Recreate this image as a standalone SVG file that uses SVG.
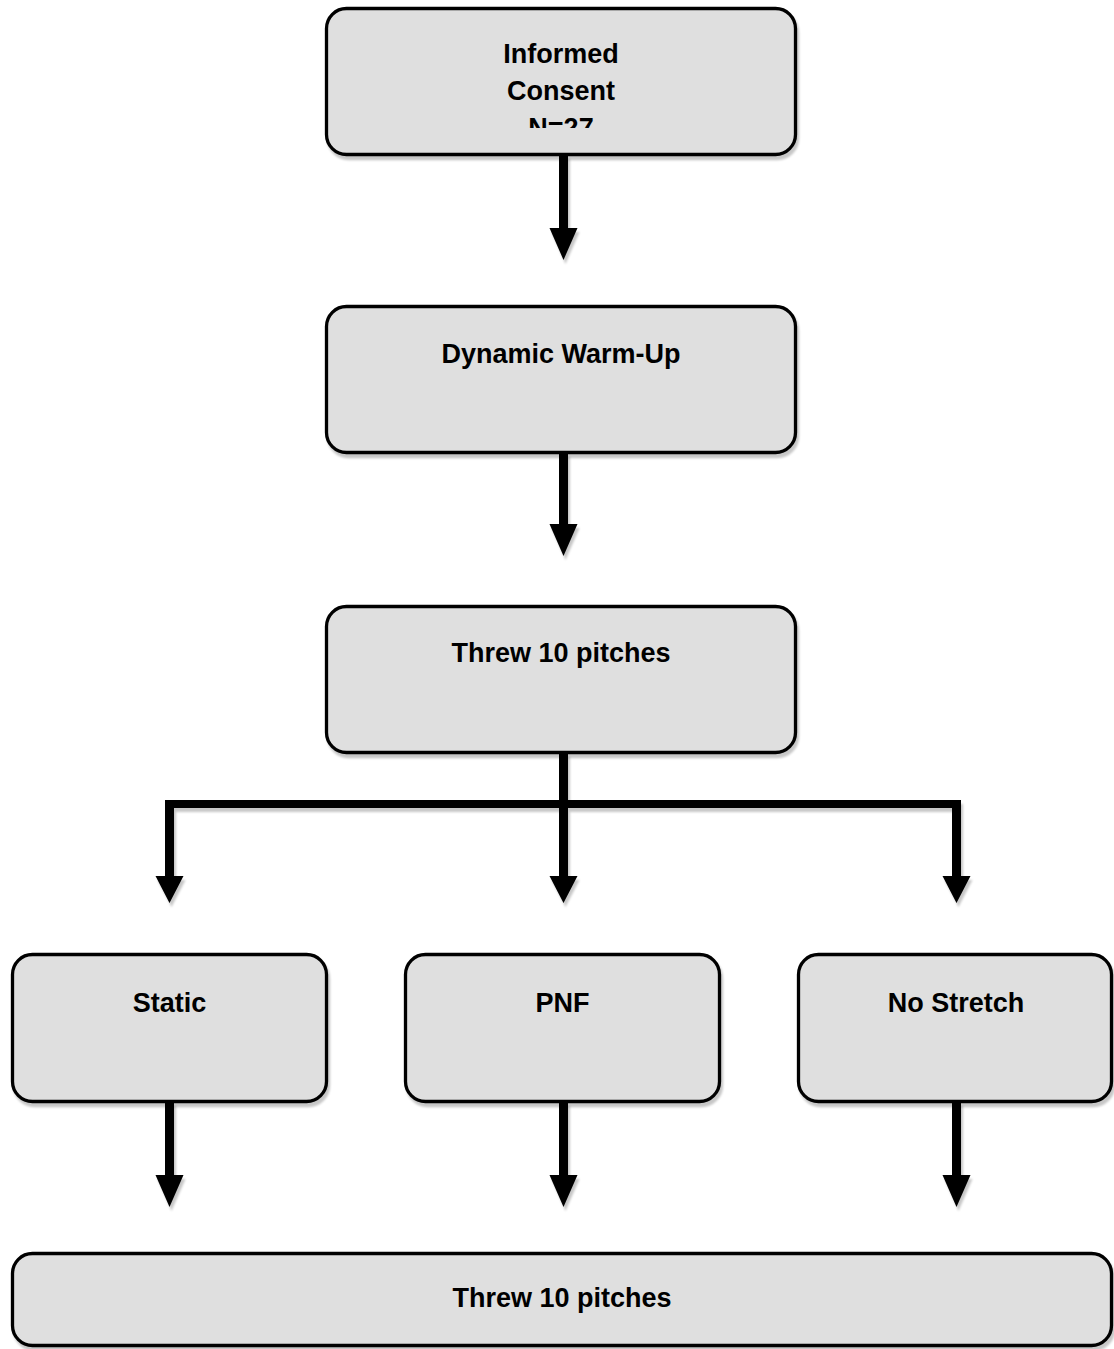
<svg xmlns="http://www.w3.org/2000/svg" width="1114" height="1349" viewBox="0 0 1114 1349">
<style>
.box{fill:#dfdfdf;stroke:#000;stroke-width:3.3}
.lbl{font-family:"Liberation Sans",Arial,sans-serif;font-weight:bold;font-size:27px;fill:#000;text-anchor:middle}
.arr{fill:#000}
</style>
<defs>
<filter id="sh" x="-5%" y="-5%" width="115%" height="120%">
<feDropShadow dx="2" dy="4" stdDeviation="1.2" flood-color="#000" flood-opacity="0.22"/>
</filter>
<clipPath id="c1"><rect x="325" y="7" width="472" height="121"/></clipPath>
</defs>
<rect width="1114" height="1349" fill="#fff"/>
<g id="connectors" filter="url(#sh)">
<path class="arr" d="M559,155 H568 V228 H577.5 L563.5,260 L549.5,228 H559 Z"/>
<path class="arr" d="M559,453 H568 V524 H577.5 L563.5,556 L549.5,524 H559 Z"/>
<path class="arr" d="M559,753 H568 V800 H961 V876 H970.5 L956.5,903 L942.5,876 H952 V808 H568 V876 H577.5 L563.5,903 L549.5,876 H559 V808 H174 V876 H183.5 L169.5,903 L155.5,876 H165 V800 H559 Z"/>
<path class="arr" d="M165,1102 H174 V1175 H183.5 L169.5,1207 L155.5,1175 H165 Z"/>
<path class="arr" d="M559,1102 H568 V1175 H577.5 L563.5,1207 L549.5,1175 H559 Z"/>
<path class="arr" d="M952,1102 H961 V1175 H970.5 L956.5,1207 L942.5,1175 H952 Z"/>
</g>
<g id="consent">
<rect class="box" x="326.5" y="8.5" width="469" height="146" rx="20" filter="url(#sh)"/>
<g clip-path="url(#c1)">
<text class="lbl" x="561" y="63">Informed</text>
<text class="lbl" x="561" y="100">Consent</text>
<text class="lbl" x="561" y="137">N=27</text>
</g>
</g>
<g id="warmup">
<rect class="box" x="326.5" y="306.5" width="469" height="146" rx="20" filter="url(#sh)"/>
<text class="lbl" x="561" y="363">Dynamic Warm-Up</text>
</g>
<g id="threw1">
<rect class="box" x="326.5" y="606.5" width="469" height="146" rx="20" filter="url(#sh)"/>
<text class="lbl" x="561" y="662">Threw 10 pitches</text>
</g>
<g id="static">
<rect class="box" x="12.5" y="954.5" width="314" height="147" rx="20" filter="url(#sh)"/>
<text class="lbl" x="169.5" y="1012">Static</text>
</g>
<g id="pnf">
<rect class="box" x="405.5" y="954.5" width="314" height="147" rx="20" filter="url(#sh)"/>
<text class="lbl" x="562.5" y="1012">PNF</text>
</g>
<g id="nostretch">
<rect class="box" x="798.5" y="954.5" width="313" height="147" rx="20" filter="url(#sh)"/>
<text class="lbl" x="956" y="1012">No Stretch</text>
</g>
<g id="threw2">
<rect class="box" x="12.5" y="1253.5" width="1099" height="92" rx="20" filter="url(#sh)"/>
<text class="lbl" x="562" y="1307">Threw 10 pitches</text>
</g>
</svg>
